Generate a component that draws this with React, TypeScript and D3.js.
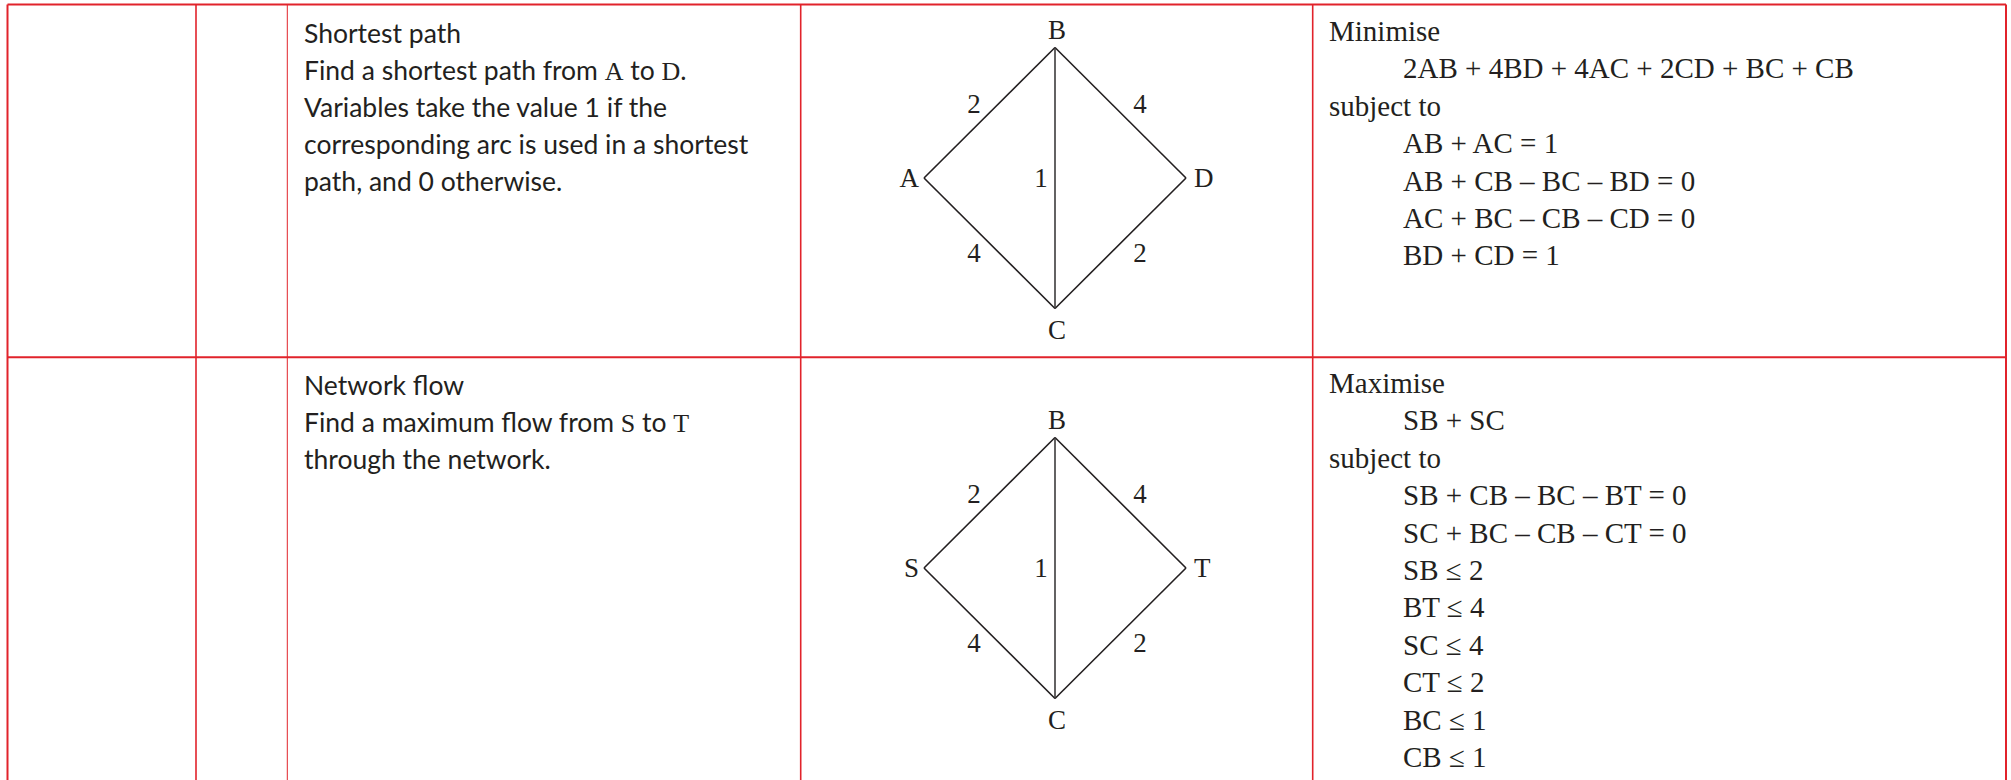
import React from "react";
import * as d3 from "d3";

// ---------- data ----------
const problemTitles = ["Shortest path", "Network flow"];

// {X} marks a letter that is set in the serif font
const shortestDescription = [
  "Shortest path",
  "Find a shortest path from {A} to {D}.",
  "Variables take the value 1 if the",
  "corresponding arc is used in a shortest",
  "path, and 0 otherwise.",
];
const flowDescription = [
  "Network flow",
  "Find a maximum flow from {S} to {T}",
  "through the network.",
];

// node names by role: left, top, bottom, right
const shortestNodes = { left: "A", top: "B", bottom: "C", right: "D" };
const flowNodes = { left: "S", top: "B", bottom: "C", right: "T" };

// edges: [from role, to role, weight]
const shortestEdges: [string, string, number][] = [
  ["left", "top", 2],
  ["top", "right", 4],
  ["left", "bottom", 4],
  ["bottom", "right", 2],
  ["top", "bottom", 1],
];
const flowEdges: [string, string, number][] = [
  ["left", "top", 2],
  ["top", "right", 4],
  ["left", "bottom", 4],
  ["bottom", "right", 2],
  ["top", "bottom", 1],
];

const shortestFormulation = [
  { head: true, text: "Minimise" },
  { head: false, text: "2AB + 4BD + 4AC + 2CD + BC + CB" },
  { head: true, text: "subject to" },
  { head: false, text: "AB + AC = 1" },
  { head: false, text: "AB + CB – BC – BD = 0" },
  { head: false, text: "AC + BC – CB – CD = 0" },
  { head: false, text: "BD + CD = 1" },
];
const flowFormulation = [
  { head: true, text: "Maximise" },
  { head: false, text: "SB + SC" },
  { head: true, text: "subject to" },
  { head: false, text: "SB + CB – BC – BT = 0" },
  { head: false, text: "SC + BC – CB – CT = 0" },
  { head: false, text: "SB ≤ 2" },
  { head: false, text: "BT ≤ 4" },
  { head: false, text: "SC ≤ 4" },
  { head: false, text: "CT ≤ 2" },
  { head: false, text: "BC ≤ 1" },
  { head: false, text: "CB ≤ 1" },
];

// ---------- layout ----------
const W = 2011;
const H = 780;
const RED = "#e1232b";
const INK = "#231f20";
const SANS = "Lato, 'Open Sans', sans-serif";
const SERIF = "'Liberation Serif', 'Times New Roman', serif";

const colX = [7.5, 196, 287.3, 800.7, 1312.7, 2006];
const colW = [2, 1.6, 1, 1.6, 1.6, 2];
const tableTop = 4.5;
const rowSep = 357.3;

const rolePos: Record<string, [number, number]> = {
  left: [-1, 0],
  top: [0, -1],
  bottom: [0, 1],
  right: [1, 0],
};

function edgeLabelOffset(a: string, b: string): [number, number] {
  const key = [a, b].sort().join("-");
  switch (key) {
    case "left-top":
      return [-15.5, 0];
    case "right-top":
      return [19.5, 0];
    case "bottom-left":
      return [-15.5, 19];
    case "bottom-right":
      return [19.5, 19];
    default:
      return [-14, 9];
  }
}

function RichLine({ text, x, y }: { text: string; x: number; y: number }) {
  const parts = text.split(/(\{[^}]+\})/).filter((p) => p.length > 0);
  return (
    <text x={x} y={y} fontFamily={SANS} fontSize={26.5} fill={INK}>
      {parts.map((p, i) =>
        p.startsWith("{") ? (
          <tspan key={i} fontFamily={SERIF} fontSize={26}>
            {p.slice(1, -1)}
          </tspan>
        ) : (
          <tspan key={i}>{p}</tspan>
        )
      )}
    </text>
  );
}

function Diagram({
  cx,
  cy,
  nodes,
  edges,
}: {
  cx: number;
  cy: number;
  nodes: Record<string, string>;
  edges: [string, string, number][];
}) {
  const x = d3.scaleLinear().domain([-1, 1]).range([cx - 131, cx + 131]);
  const y = d3.scaleLinear().domain([-1, 1]).range([cy - 130.5, cy + 130.5]);
  const pos = (r: string) => [x(rolePos[r][0]), y(rolePos[r][1])];
  const line = d3.line();
  return (
    <g>
      {edges.map(([a, b], i) => {
        const vertical = rolePos[a][0] === rolePos[b][0];
        return (
          <path
            key={"e" + i}
            d={line([pos(a) as [number, number], pos(b) as [number, number]]) || ""}
            stroke={vertical ? "#3d3b3c" : INK}
            strokeWidth={1.6}
            fill="none"
          />
        );
      })}
      {edges.map(([a, b, w], i) => {
        const [pa, pb] = [pos(a), pos(b)];
        const [dx, dy] = edgeLabelOffset(a, b);
        return (
          <text
            key={"w" + i}
            x={(pa[0] + pb[0]) / 2 + dx}
            y={(pa[1] + pb[1]) / 2 + dy}
            textAnchor="middle"
            fontFamily={SERIF}
            fontSize={27}
            fill={INK}
          >
            {w}
          </text>
        );
      })}
      {Object.entries(nodes).map(([role, name]) => {
        const [px, py] = pos(role);
        let tx = px,
          ty = py,
          anchor = "middle";
        if (role === "top") {
          tx = px + 2;
          ty = py - 8.5;
        } else if (role === "bottom") {
          tx = px + 2;
          ty = py + 30;
        } else if (role === "left") {
          tx = px - 5;
          ty = py + 9;
          anchor = "end";
        } else {
          tx = px + 8;
          ty = py + 9;
          anchor = "start";
        }
        return (
          <text
            key={role}
            x={tx}
            y={ty}
            textAnchor={anchor}
            fontFamily={SERIF}
            fontSize={27}
            fill={INK}
          >
            {name}
          </text>
        );
      })}
    </g>
  );
}

function Formulation({
  lines,
  top,
}: {
  lines: { head: boolean; text: string }[];
  top: number;
}) {
  return (
    <g>
      {lines.map((l, i) => (
        <text
          key={i}
          x={l.head ? 1329 : 1403}
          y={top + i * 37.4}
          fontFamily={SERIF}
          fontSize={29}
          fill={INK}
        >
          {l.text}
        </text>
      ))}
    </g>
  );
}

export default function App() {
  const descriptions = [shortestDescription, flowDescription];
  return (
    <div style={{ position: "fixed", left: 0, top: 0, background: "#fff" }}>
      <svg width={W} height={H} viewBox={`0 0 ${W} ${H}`} style={{ display: "block" }}>
        <rect width={W} height={H} fill="#fff" />
        {/* table grid */}
        <line x1={colX[0]} x2={colX[5]} y1={tableTop} y2={tableTop} stroke={RED} strokeWidth={2} />
        <line x1={colX[0]} x2={colX[5]} y1={rowSep} y2={rowSep} stroke={RED} strokeWidth={2} />
        {colX.map((cx, i) => (
          <line key={i} x1={cx} x2={cx} y1={tableTop} y2={H} stroke={RED} strokeWidth={colW[i]} />
        ))}

        {/* descriptions */}
        {descriptions.map((desc, r) => (
          <g key={"d" + r} aria-label={problemTitles[r]}>
            {desc.map((t, i) => (
              <RichLine key={i} text={t} x={304} y={(r === 0 ? 43 : 395) + i * 37} />
            ))}
          </g>
        ))}

        {/* diagrams */}
        <Diagram cx={1055} cy={178} nodes={shortestNodes} edges={shortestEdges} />
        <Diagram cx={1055} cy={568} nodes={flowNodes} edges={flowEdges} />

        {/* formulations */}
        <Formulation lines={shortestFormulation} top={41} />
        <Formulation lines={flowFormulation} top={393} />
      </svg>
    </div>
  );
}
